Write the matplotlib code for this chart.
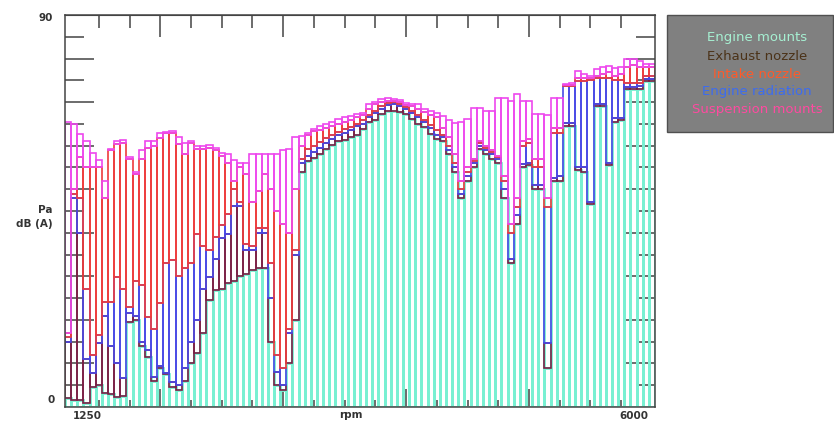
import numpy as np
import matplotlib
matplotlib.use("Agg")
import matplotlib.pyplot as plt
from matplotlib.patches import Rectangle

# rpm bins (50 rpm steps)
rpm = list(range(1250, 6001, 50))

# cumulative levels in dB(A), stacked from the bottom up
lvl_engine_mounts = [2, 1.5, 1.5, 1, 4.6, 5, 3.2, 3, 2.3, 2.5,
                     19.5, 20, 14, 11.5, 6, 9, 7.5, 4.5, 4, 6,
                     10, 12.4, 17, 24.5, 26.8, 27, 28.4, 29, 30, 30.6,
                     31.4, 31.8, 32, 15, 5, 4, 10, 20, 54, 56.5,
                     57.2, 58, 59.2, 60.2, 61, 61.3, 62, 62.5, 63.9, 65.5,
                     66, 67.3, 68, 68, 67.8, 67.3, 66.2, 65, 64.2, 62.7,
                     61.5, 61, 58, 54, 48, 52, 55, 59.3, 58, 57,
                     56, 48, 33, 42, 55, 55.5, 50, 50, 9, 52,
                     52, 64.5, 64.5, 54.5, 54, 46.5, 69, 69, 55.5, 65.5,
                     66, 73, 73, 73, 74.8, 74.8]
lvl_exhaust = [15, 48, 40, 11, 7.8, 14.6, 21, 14, 10, 6.6,
               21.5, 21, 15, 13, 7, 9.5, 7.8, 5.7, 5, 9,
               15, 20, 27, 29.8, 34, 38.7, 39.8, 46.2, 46.2, 36,
               36, 40, 40, 25, 8, 5, 17, 35, 56, 57.7,
               58.5, 59.5, 60.5, 61.5, 62.5, 62.8, 63.5, 64.5, 65, 66.5,
               67.5, 68.5, 69.3, 69.5, 69, 68.5, 67.5, 66.5, 65.5, 64,
               62.5, 62, 59, 55, 49, 53, 56, 60, 59, 58,
               57, 50, 34, 44, 55.9, 56, 51, 51, 14.6, 52.5,
               53, 65.3, 65.3, 55, 55, 47, 69.6, 69.6, 56, 66.4,
               66.4, 73.5, 73.5, 73.7, 75.3, 75.3]
lvl_radiation = [16, 49, 48, 27, 12, 16.5, 24, 24, 29.8, 27,
                 23, 29, 28, 20.6, 18, 23.8, 33, 33.7, 30, 31.8,
                 33, 39.8, 37, 36, 39, 41.7, 44.4, 50, 47, 37.5,
                 37, 41, 41, 33, 12, 9, 18, 36, 57, 59.3,
                 60, 60.8, 61.8, 62.5, 63.2, 63.8, 64.3, 65, 65.8, 67,
                 68, 69, 69.8, 70, 69.5, 68.8, 68, 67, 66, 64.8,
                 63.5, 62.5, 60, 56, 50, 54, 56.5, 60.5, 59.5, 58.5,
                 57.3, 52, 40, 46, 60, 60.5, 55, 55, 46, 63,
                 63, 73.7, 73.7, 74.9, 74.9, 75, 75.6, 75.6, 75.5, 75,
                 75, 74.5, 74.5, 74.5, 76, 76]
lvl_intake = [17, 50, 57.5, 55, 55, 55, 48, 58.9, 60.4, 60.7,
              57, 53.6, 57, 59.5, 60, 61.8, 63, 63, 60.4, 58,
              60.7, 59.3, 59.3, 59.5, 58.9, 57.7, 56, 52, 55, 53.6,
              47, 49.7, 53.6, 50, 45, 42, 40, 50, 60, 62.5,
              63.3, 63.5, 64, 64.5, 65, 65.5, 66, 66.5, 67, 68.5,
              69.5, 70, 70.3, 70.3, 70, 69.3, 69, 68.5, 67.8, 67,
              66.5, 64, 62, 58, 52, 55, 57, 61, 60, 59,
              57.6, 53, 42, 48, 61, 61.5, 57, 57, 48, 64,
              64, 74, 74, 75.5, 75.5, 75.5, 76, 76.5, 77, 76,
              76.5, 78, 78.5, 78, 78, 78]
lvl_suspension = [65.5, 65, 62.7, 61, 58.4, 56.6, 52, 59.3, 61, 61.2,
                  57.5, 54, 59, 61, 61, 63, 63.2, 63.4, 62, 60.5,
                  61, 60, 60, 60.2, 59.5, 58.4, 58, 56.6, 56, 56,
                  58, 58, 58, 58, 58, 59, 59.3, 62, 62.3, 63,
                  63.9, 64.5, 65, 65.5, 66.2, 66.5, 66.9, 67.3, 67.6, 69.5,
                  70, 70.7, 70.9, 70.7, 70.5, 69.8, 69.5, 69.5, 68.5, 68,
                  67.5, 66.9, 66, 65.3, 65.5, 66.2, 68.7, 68.7, 68, 68,
                  71, 71, 70.3, 71.9, 70.3, 70.3, 67.3, 67.3, 67, 71,
                  71, 74.2, 74.5, 77.2, 76.5, 76, 77.6, 78, 78.3, 77.8,
                  78, 79.8, 79.8, 79.5, 78.8, 78.8]

names = ["Engine mounts", "Exhaust nozzle", "Intake nozzle",
         "Engine radiation", "Suspension mounts"]
name_colors = ["#a6f0d2", "#4b3218", "#ff5a2a", "#3c6cf0", "#ff4aa0"]

# stack order (bottom -> top) and bar colours
stack = [lvl_engine_mounts, lvl_exhaust, lvl_radiation, lvl_intake, lvl_suspension]
bar_colors = ["#78f0d2", "#7b1f45", "#4848e6", "#ee3b3b", "#ee48ee"]
bar_lw = [2.0, 1.2, 1.2, 1.2, 1.2]

fig = plt.figure(figsize=(8.34, 4.21), dpi=100)
ax = fig.add_axes([65/834, 1 - 407/421, 590/834, 392/421])

x = np.array(rpm)
prev = np.zeros(len(rpm))
for k, lv in enumerate(stack):
    lv = np.array(lv, dtype=float)
    ax.bar(x, lv - prev, bottom=prev, width=50, fill=False,
           edgecolor=bar_colors[k], linewidth=bar_lw[k], zorder=2 + k)
    prev = lv

ax.set_xlim(1225, 6025)
ax.set_ylim(0, 90)

#---- axes / ticks --------------------------------------------------
spine_c = "#444444"
for s in ax.spines.values():
    s.set_color(spine_c)
    s.set_linewidth(1.1)
    s.set_zorder(10)

ax.set_xticks([2000, 3000, 4000, 5000])
ax.set_xticks(list(range(1500, 6000, 250)), minor=True)
ax.set_yticks(list(range(10, 90, 10)))
ax.set_yticks(list(range(5, 90, 10)), minor=True)
ax.tick_params(axis="x", which="major", direction="in", length=13, width=1.1,
               color=spine_c, labelbottom=False, bottom=True)
ax.tick_params(axis="x", which="minor", direction="in", length=5, width=1.1,
               color=spine_c)
ax.tick_params(axis="y", which="major", direction="in", length=21, width=1.1,
               color=spine_c, labelleft=False, left=True, right=True)
ax.tick_params(axis="y", which="minor", direction="in", length=14, width=1.1,
               color=spine_c, left=True, right=True)

top = ax.secondary_xaxis("top")
top.set_xticks([2000, 3000, 4000, 5000])
top.set_xticks(list(range(1500, 6000, 250)), minor=True)
top.tick_params(which="major", direction="in", length=16, width=1.1,
                color=spine_c, labeltop=False)
top.tick_params(which="minor", direction="in", length=9.5, width=1.1,
                color=spine_c)
top.spines["top"].set_color(spine_c)

lab = dict(fontsize=7.5, fontweight="bold", color="#333333",
           transform=fig.transFigure)
fig.text(53/834, 1 - 18/421, "90", ha="right", va="center", **lab)
fig.text(55/834, 1 - 400/421, "0", ha="right", va="center", **lab)
fig.text(53/834, 1 - 210/421, "Pa", ha="right", va="center", **lab)
fig.text(53/834, 1 - 224/421, "dB (A)", ha="right", va="center", **lab)
fig.text(87/834, 1 - 416/421, "1250", ha="center", va="center", **lab)
fig.text(351/834, 1 - 415/421, "rpm", ha="center", va="center", **lab)
fig.text(634/834, 1 - 416/421, "6000", ha="center", va="center", **lab)

#---- legend box -----------------------------------------------------
box = Rectangle((667/834, 1 - 132/421), 166/834, 117/421,
                transform=fig.transFigure, facecolor="#808080",
                edgecolor="#505050", linewidth=1.0)
fig.patches.append(box)
for j, (nm, c) in enumerate(zip(names, name_colors)):
    fig.text(757/834, 1 - (38 + 18*j)/421, nm, ha="center", va="center",
             fontsize=9.5, color=c)

fig.savefig("out.png", dpi=100)
